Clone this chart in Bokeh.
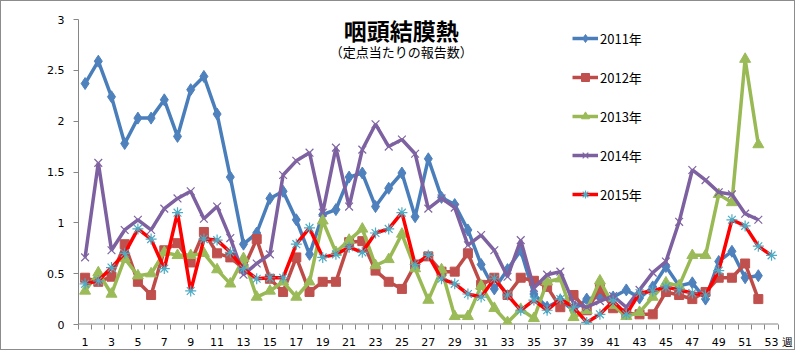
from bokeh.plotting import figure
from bokeh.models import Label, Legend, LegendItem, FixedTicker, Range1d, NumeralTickFormatter
from bokeh.embed import file_html
from bokeh.resources import INLINE

weeks = list(range(1, 54))
tick_weeks = list(range(1, 54, 2))
y_ticks = [0, 0.5, 1, 1.5, 2, 2.5, 3]
unit_label = "週"
unit_pos = 54.2

y2011 = [2.37, 2.59, 2.24, 1.78, 2.03, 2.03, 2.21, 1.85, 2.31, 2.44, 2.07, 1.45, 0.79, 0.90, 1.24, 1.31,
         1.03, 0.69, 1.08, 1.13, 1.45, 1.49, 1.16, 1.34, 1.49, 1.06, 1.63, 1.25, 1.18, 0.93, 0.59, 0.35,
         0.54, 0.73, 0.30, 0.17, 0.24, 0.14, 0.25, 0.27, 0.27, 0.34, 0.26, 0.37, 0.57, 0.38, 0.41, 0.25,
         0.62, 0.72, 0.46, 0.48]
y2012 = [0.46, 0.42, 0.47, 0.79, 0.42, 0.29, 0.73, 0.80, 0.61, 0.91, 0.70, 0.66, 0.55, 0.84, 0.45, 0.32,
         0.66, 0.32, 0.42, 0.42, 0.81, 0.82, 0.53, 0.42, 0.35, 0.59, 0.67, 0.52, 0.52, 0.70, 0.39, 0.46,
         0.29, 0.46, 0.43, 0.37, 0.17, 0.29, 0.14, 0.35, 0.16, 0.11, 0.10, 0.10, 0.32, 0.29, 0.25, 0.32,
         0.46, 0.46, 0.60, 0.25]
y2013 = [0.33, 0.51, 0.30, 0.65, 0.48, 0.50, 0.71, 0.68, 0.68, 0.70, 0.54, 0.40, 0.65, 0.27, 0.33, 0.42,
         0.27, 0.42, 1.02, 0.71, 0.83, 0.94, 0.58, 0.64, 0.89, 0.55, 0.24, 0.54, 0.08, 0.08, 0.38, 0.16,
         0.02, 0.15, 0.06, 0.42, 0.45, 0.07, 0.14, 0.43, 0.19, 0.08, 0.12, 0.27, 0.41, 0.38, 0.68, 0.68,
         1.28, 1.20, 2.61, 1.77]
y2014 = [0.66, 1.59, 0.73, 0.93, 1.03, 0.93, 1.14, 1.24, 1.31, 1.04, 1.16, 0.85, 0.49, 0.60, 0.69, 1.47,
         1.61, 1.69, 1.10, 1.74, 1.16, 1.72, 1.97, 1.75, 1.82, 1.68, 1.14, 1.24, 1.15, 0.78, 0.88, 0.73,
         0.47, 0.83, 0.36, 0.49, 0.52, 0.21, 0.17, 0.23, 0.28, 0.17, 0.34, 0.51, 0.62, 1.01, 1.52, 1.42,
         1.30, 1.28, 1.09, 1.03]
y2015 = [0.40, 0.43, 0.56, 0.70, 0.94, 0.84, 0.55, 1.10, 0.33, 0.84, 0.83, 0.71, 0.55, 0.45, 0.46, 0.46,
         0.79, 0.95, 0.66, 0.69, 0.76, 0.71, 0.90, 0.94, 1.10, 0.59, 0.68, 0.45, 0.40, 0.30, 0.27, 0.45,
         0.29, 0.14, 0.24, 0.14, 0.25, 0.17, 0.02, 0.10, 0.23, 0.10, 0.31, 0.33, 0.37, 0.34, 0.31, 0.29,
         0.53, 1.03, 0.97, 0.77, 0.68]

series = [
    ("2011年", y2011, "#4A7EBB", "#4F81BD", "diamond", 12),
    ("2012年", y2012, "#BE4B48", "#C0504D", "square", 9),
    ("2013年", y2013, "#98B954", "#9BBB59", "triangle", 11),
    ("2014年", y2014, "#7D60A0", "#8064A2", "x", 11),
    ("2015年", y2015, "#FF0000", "#4BACC6", "asterisk", 11),
]

x_lo = weeks[0] - 0.5
x_hi = weeks[-1] + 0.5
p = figure(width=795, height=350, output_backend="svg", toolbar_location=None, title=None,
           x_range=Range1d(x_lo, 54.74), y_range=Range1d(0, 3),
           min_border_left=77, min_border_right=2, min_border_top=18, min_border_bottom=27)
p.styles = {"border": "1px solid #8c8c8c"}
p.outline_line_color = None
p.xgrid.visible = False
p.ygrid.visible = False
p.background_fill_color = "white"
p.border_fill_color = "white"

# bounded x axis line (the frame is widened to make room for the unit label)
p.segment(x0=[x_lo], y0=[y_ticks[0]], x1=[x_hi], y1=[y_ticks[0]], line_color="#868686", line_width=2)

items = []
for name, ys, lc, mc, marker, size in series:
    xs = weeks[:len(ys)]
    r1 = p.line(xs, ys, line_color=lc, line_width=3.5)
    if marker in ("x", "asterisk"):
        r2 = p.scatter(xs, ys, marker=marker, size=size, line_color=mc, line_width=1.2)
    else:
        r2 = p.scatter(xs, ys, marker=marker, size=size, fill_color=mc, line_color=mc)
    items.append(LegendItem(label=name, renderers=[r1, r2]))

legend = Legend(items=items, location=(494, 120), padding=0, margin=0, spacing=19,
                glyph_width=26, glyph_height=20, label_height=20, label_standoff=2,
                label_text_font="Noto Sans CJK JP", label_text_font_size="13px",
                label_text_color="#000000", border_line_color=None, background_fill_alpha=0)
p.add_layout(legend)

ax = p.xaxis[0]
ax.ticker = FixedTicker(ticks=tick_weeks + [unit_pos],
                        minor_ticks=[w - 0.5 for w in weeks] + [x_hi])
ax.formatter = NumeralTickFormatter(format="0")
ax.major_label_overrides = {unit_pos: unit_label}
ax.major_tick_line_color = None
ax.major_tick_out = 0
ax.major_tick_in = 0
ax.minor_tick_out = 5
ax.minor_tick_in = 0
ax.minor_tick_line_color = "#868686"
ax.axis_line_color = None
ax.major_label_standoff = 6
ax.major_label_text_font = "DejaVu Sans"
ax.major_label_text_font_size = "11px"
ax.major_label_text_color = "#000000"

ay = p.yaxis[0]
ay.ticker = FixedTicker(ticks=y_ticks)
ay.formatter = NumeralTickFormatter(format="0.[0]")
ay.major_tick_out = 5
ay.major_tick_in = 0
ay.minor_tick_line_color = None
ay.major_tick_line_color = "#868686"
ay.axis_line_color = "#868686"
ay.major_label_standoff = 9
ay.major_label_text_font = "DejaVu Sans"
ay.major_label_text_font_size = "11px"
ay.major_label_text_color = "#000000"

p.add_layout(Label(x=24.95, y=2.90, text="咽頭結膜熱", text_align="center", text_baseline="middle",
                   text_font="Noto Sans CJK JP", text_font_size="23px", text_font_style="bold",
                   text_color="#000000"))
p.add_layout(Label(x=24.95, y=2.685, text="（定点当たりの報告数）", text_align="center",
                   text_baseline="middle", text_font="Noto Sans CJK JP", text_font_size="13px",
                   text_color="#000000"))

open("out.html", "w").write(file_html(p, INLINE))
